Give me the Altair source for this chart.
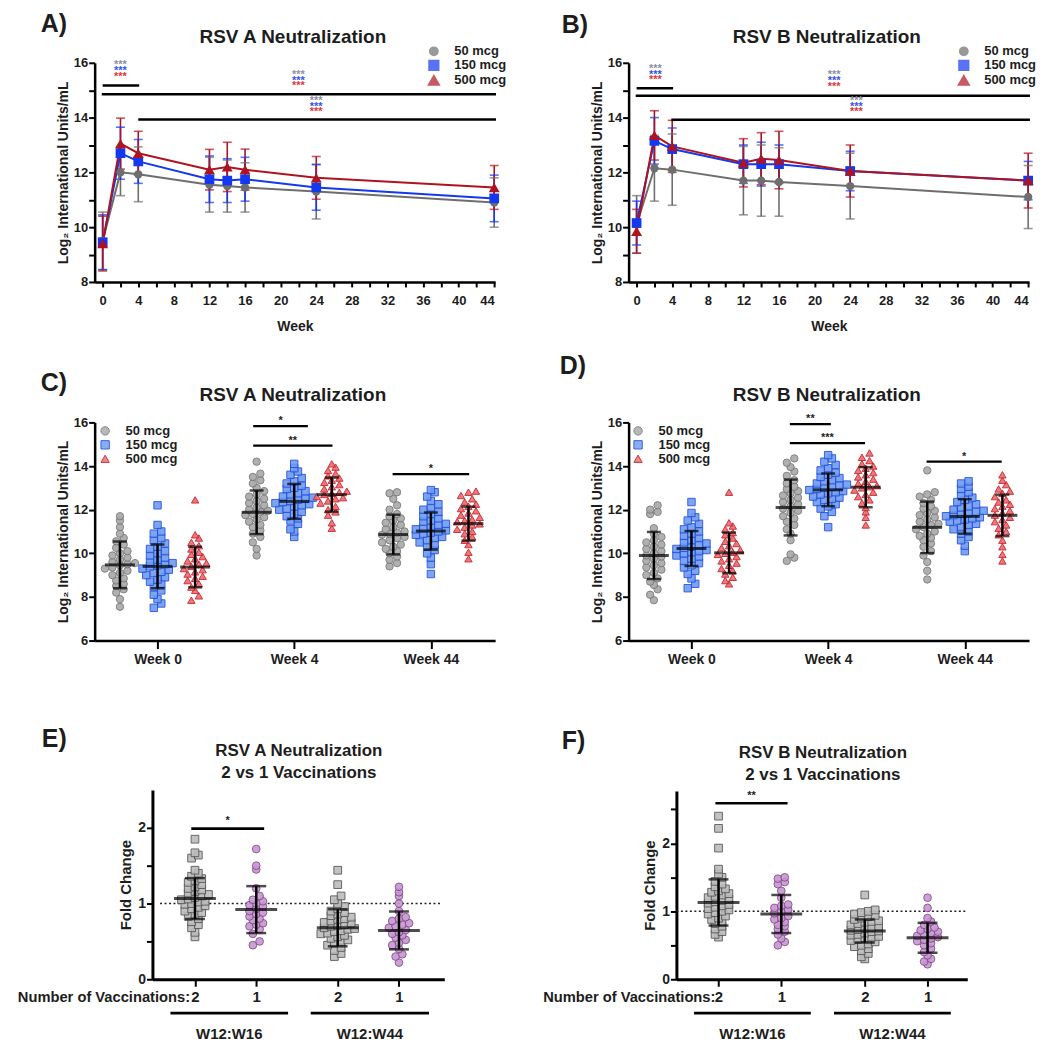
import altair as alt
import pandas as pd

FONT = "Liberation Sans"
INK = "#1d1d1d"
DOSES = ["50 mcg", "150 mcg", "500 mcg"]

# ---------------- Panels A / B : group means over time ----------------
WEEKS = [0, 2, 4, 12, 14, 16, 24, 44]

A_MEAN = {
    "50 mcg":  [9.5, 12.0, 11.93, 11.55, 11.5, 11.45, 11.3, 10.9],
    "150 mcg": [9.45, 12.7, 12.4, 11.75, 11.7, 11.75, 11.45, 11.05],
    "500 mcg": [9.4, 13.05, 12.7, 12.1, 12.2, 12.1, 11.8, 11.45],
}
A_SD = {
    "50 mcg":  [1.05, 0.85, 1.0, 1.0, 0.95, 0.9, 1.0, 0.9],
    "150 mcg": [1.0, 0.95, 0.8, 0.85, 0.8, 0.8, 0.83, 0.85],
    "500 mcg": [1.0, 0.93, 0.8, 0.74, 0.9, 0.75, 0.78, 0.8],
}
B_MEAN = {
    "50 mcg":  [10.1, 12.15, 12.1, 11.7, 11.7, 11.65, 11.5, 11.1],
    "150 mcg": [10.15, 13.15, 12.85, 12.3, 12.3, 12.3, 12.05, 11.7],
    "500 mcg": [9.85, 13.35, 12.95, 12.35, 12.5, 12.45, 12.05, 11.7],
}
B_SD = {
    "50 mcg":  [1.05, 1.2, 1.3, 1.25, 1.3, 1.25, 1.2, 1.15],
    "150 mcg": [0.8, 0.85, 0.77, 0.7, 0.8, 0.7, 0.72, 0.7],
    "500 mcg": [0.8, 0.9, 0.95, 0.88, 0.95, 1.05, 0.95, 1.0],
}
A_BAR_X1 = [0.0, -0.1, 4.0]
A_BAR_X2 = [4.1, 44.2, 44.2]
A_BAR_Y = [15.17, 14.85, 13.93]
A_STAR_X = [2.0, 22.0, 24.0]
A_STAR_Y = [[15.92, 15.7, 15.47], [15.55, 15.35, 15.15], [14.59, 14.38, 14.19]]
B_BAR_X1 = [0.0, -0.1, 3.9]
B_BAR_X2 = [4.1, 44.2, 44.2]
B_BAR_Y = [15.07, 14.80, 13.92]
B_STAR_X = [2.1, 22.2, 24.7]
B_STAR_Y = [[15.76, 15.56, 15.37], [15.54, 15.32, 15.1], [14.61, 14.4, 14.21]]
STAR_COLORS = ["#8b8fa8", "#3552e8", "#e0353a"]

LINE_COLORS = ["#6e6e6e", "#1437f0", "#b01320"]
LINE_SHAPES = ["circle", "square", "triangle-up"]
LINE_SIZES = [70, 120, 90]

# ---------------- Panels C / D : individual titers ----------------
WEEK_LABELS = ["Week 0", "Week 4", "Week 44"]
DOSE_GAP = 0.275

C_W0_50 = [7.55, 7.9, 8.2, 8.35, 8.5, 8.6, 8.75, 8.85, 9.0, 9.1, 9.2, 9.3, 9.35, 9.45, 9.5,
           9.55, 9.6, 9.7, 9.8, 9.9, 10.0, 10.1, 10.25, 10.4, 10.55, 10.7, 10.9, 11.2, 11.5, 11.7]
C_W0_150 = [7.5, 7.7, 7.9, 8.1, 8.3, 8.45, 8.6, 8.7, 8.8, 8.9, 9.0, 9.1, 9.15, 9.25, 9.3, 9.4, 9.45,
            9.5, 9.55, 9.6, 9.7, 9.8, 9.9, 10.0, 10.1, 10.2, 10.3, 10.45, 10.6, 10.7, 10.9, 11.0, 11.3, 12.2]
C_W0_500 = [7.85, 8.05, 8.3, 8.45, 8.6, 8.75, 8.85, 8.95, 9.05, 9.15, 9.25, 9.3, 9.4, 9.5, 9.55,
            9.65, 9.75, 9.85, 9.95, 10.05, 10.2, 10.35, 10.5, 10.7, 10.85, 12.45]
C_W4_50 = [9.9, 10.2, 10.5, 10.75, 10.9, 11.05, 11.2, 11.3, 11.45, 11.55, 11.65, 11.75, 11.8, 11.9, 11.95,
           12.0, 12.1, 12.2, 12.3, 12.4, 12.5, 12.6, 12.7, 12.85, 13.0, 13.2, 13.35, 13.5, 13.65, 14.2]
C_W4_150 = [10.75, 11.0, 11.1, 11.35, 11.5, 11.6, 11.7, 11.8, 11.9, 12.0, 12.05, 12.15, 12.2, 12.25, 12.3,
            12.35, 12.4, 12.45, 12.5, 12.55, 12.6, 12.7, 12.75, 12.85, 12.95, 13.0, 13.1, 13.2, 13.3, 13.45,
            13.6, 13.75, 13.9, 14.1]
C_W4_500 = [11.15, 11.4, 11.75, 11.9, 12.0, 12.15, 12.3, 12.4, 12.5, 12.55, 12.6, 12.7, 12.75, 12.8, 12.85,
            12.95, 13.05, 13.15, 13.25, 13.35, 13.45, 13.55, 13.65, 13.8, 13.95, 14.1]
C_W44_50 = [9.4, 9.55, 9.7, 9.85, 10.0, 10.1, 10.2, 10.3, 10.4, 10.5, 10.6, 10.7, 10.75, 10.85, 10.9,
            10.95, 11.0, 11.1, 11.2, 11.3, 11.4, 11.5, 11.6, 11.7, 11.8, 12.0, 12.2, 12.5, 12.75, 12.8]
C_W44_150 = [9.05, 9.5, 9.8, 10.0, 10.15, 10.3, 10.4, 10.5, 10.6, 10.7, 10.75, 10.85, 10.9, 10.95, 11.0,
             11.05, 11.1, 11.15, 11.2, 11.3, 11.35, 11.45, 11.5, 11.6, 11.7, 11.8, 11.9, 12.0, 12.1, 12.25,
             12.4, 12.6, 12.8, 12.9]
C_W44_500 = [9.75, 10.05, 10.4, 10.6, 10.75, 10.9, 11.0, 11.1, 11.2, 11.3, 11.35, 11.45, 11.5, 11.55, 11.65,
             11.75, 11.85, 11.95, 12.05, 12.15, 12.25, 12.35, 12.5, 12.65, 12.8, 12.85]
C_MEAN = [[9.47, 9.4, 9.37], [11.88, 12.38, 12.69], [10.86, 11.02, 11.36]]
C_SD = [[1.07, 1.0, 0.93], [1.0, 0.8, 0.78], [0.91, 0.85, 0.78]]
C_SIG_X1 = [0.70, 0.70, 1.72]
C_SIG_X2 = [1.10, 1.28, 2.28]
C_SIG_Y = [15.83, 14.94, 13.63]
C_SIG_T = ["*", "**", "*"]

D_W0_50 = [7.85, 8.1, 8.35, 8.55, 8.7, 8.85, 9.0, 9.1, 9.25, 9.35, 9.45, 9.55, 9.65, 9.75, 9.85,
           9.9, 10.0, 10.1, 10.2, 10.3, 10.4, 10.5, 10.6, 10.75, 10.9, 11.15, 11.8, 11.9, 12.0, 12.2]
D_W0_150 = [8.4, 8.6, 8.85, 9.05, 9.2, 9.35, 9.45, 9.55, 9.65, 9.75, 9.85, 9.9, 10.0, 10.05, 10.1,
            10.15, 10.2, 10.25, 10.3, 10.4, 10.45, 10.5, 10.6, 10.7, 10.8, 10.9, 11.0, 11.1, 11.2, 11.35,
            11.5, 11.65, 11.85, 12.35]
D_W0_500 = [8.6, 8.75, 8.9, 9.05, 9.2, 9.3, 9.45, 9.55, 9.65, 9.75, 9.85, 9.95, 10.0, 10.05, 10.15,
            10.25, 10.35, 10.45, 10.55, 10.7, 10.85, 10.95, 11.1, 11.25, 11.4, 12.8]
D_W4_50 = [9.65, 9.8, 9.95, 10.6, 10.9, 11.1, 11.3, 11.45, 11.6, 11.7, 11.85, 11.95, 12.05, 12.15, 12.25,
           12.35, 12.45, 12.55, 12.65, 12.75, 12.85, 12.95, 13.05, 13.2, 13.35, 13.55, 13.75, 13.95, 14.15, 14.35]
D_W4_150 = [11.2, 11.7, 11.9, 12.05, 12.15, 12.25, 12.35, 12.45, 12.5, 12.55, 12.6, 12.7, 12.75, 12.8, 12.85,
            12.9, 12.95, 13.0, 13.05, 13.1, 13.15, 13.2, 13.3, 13.35, 13.45, 13.5, 13.6, 13.7, 13.8, 13.9,
            14.05, 14.2, 14.35, 14.5]
D_W4_500 = [11.3, 11.65, 11.9, 12.1, 12.3, 12.45, 12.6, 12.7, 12.8, 12.9, 13.0, 13.05, 13.1, 13.2, 13.3,
            13.4, 13.5, 13.6, 13.7, 13.8, 13.9, 14.0, 14.1, 14.25, 14.4, 14.6]
D_W44_50 = [8.8, 9.2, 9.6, 9.9, 10.1, 10.3, 10.45, 10.6, 10.7, 10.8, 10.9, 11.0, 11.1, 11.2, 11.3,
            11.35, 11.45, 11.55, 11.65, 11.75, 11.85, 11.95, 12.05, 12.15, 12.3, 12.45, 12.6, 12.7, 12.8, 13.8]
D_W44_150 = [10.1, 10.35, 10.6, 10.75, 10.9, 11.0, 11.1, 11.2, 11.3, 11.35, 11.45, 11.5, 11.55, 11.6, 11.65,
             11.7, 11.75, 11.8, 11.85, 11.9, 11.95, 12.0, 12.1, 12.15, 12.25, 12.35, 12.45, 12.55, 12.65,
             12.8, 12.95, 13.05, 13.2, 13.3]
D_W44_500 = [9.65, 9.95, 10.3, 10.6, 10.85, 11.0, 11.15, 11.3, 11.45, 11.55, 11.65, 11.75, 11.85, 11.95, 12.05,
             12.15, 12.25, 12.35, 12.45, 12.6, 12.75, 12.85, 12.95, 13.15, 13.35, 13.6]
D_MEAN = [[9.9, 10.22, 10.02], [12.1, 12.91, 13.03], [11.19, 11.69, 11.74]]
D_SD = [[1.08, 0.8, 0.93], [1.28, 0.75, 0.92], [1.18, 0.79, 0.95]]
D_SIG_X1 = [0.72, 0.72, 1.72]
D_SIG_X2 = [1.02, 1.27, 2.27]
D_SIG_Y = [15.92, 15.05, 14.2]
D_SIG_T = ["**", "***", "*"]

SW_FILL = ["#a8a8a8", "#6e9bf0", "#ec6a6a"]
SW_STROKE = ["#767676", "#2150dd", "#c81e2c"]
SW_SHAPES = ["circle", "square", "triangle-up"]

# ---------------- Panels E / F : fold change ----------------
VACC = ["2", "1", "2", "1"]
FOLD_POS = [0.0, 1.0, 2.33, 3.33]
PERIODS = ["W12:W16", "W12:W44"]

E_W16_2 = [0.56, 0.62, 0.68, 0.72, 0.76, 0.8, 0.83, 0.86, 0.88, 0.9, 0.93, 0.95, 0.97, 0.99, 1.0,
           1.02, 1.03, 1.05, 1.06, 1.08, 1.1, 1.12, 1.14, 1.16, 1.18, 1.2, 1.22, 1.25, 1.28, 1.3,
           1.33, 1.36, 1.4, 1.44, 1.6, 1.64, 1.67, 1.85]
E_W16_1 = [0.45, 0.5, 0.6, 0.66, 0.7, 0.72, 0.74, 0.78, 0.8, 0.83, 0.86, 0.88, 0.9, 0.93, 0.96,
           0.98, 1.0, 1.03, 1.05, 1.1, 1.2, 1.45, 1.5, 1.72]
E_W44_2 = [0.3, 0.34, 0.38, 0.42, 0.45, 0.48, 0.5, 0.52, 0.54, 0.56, 0.58, 0.6, 0.61, 0.63, 0.64,
           0.66, 0.67, 0.68, 0.7, 0.71, 0.72, 0.74, 0.75, 0.77, 0.79, 0.8, 0.82, 0.84, 0.86, 0.88,
           0.9, 0.93, 0.96, 1.0, 1.05, 1.1, 1.25, 1.44]
E_W44_1 = [0.22, 0.3, 0.33, 0.4, 0.45, 0.48, 0.52, 0.55, 0.58, 0.6, 0.62, 0.65, 0.68, 0.7, 0.72,
           0.74, 0.77, 0.8, 0.82, 0.9, 1.0, 1.1, 1.15, 1.22]
E_MEAN = [1.066, 0.92, 0.68, 0.645]
E_SD = [0.27, 0.31, 0.245, 0.25]
E_SIG = [-0.06, 1.13, 1.99, "*"]

F_W16_2 = [0.62, 0.66, 0.7, 0.74, 0.78, 0.82, 0.85, 0.88, 0.9, 0.93, 0.96, 0.98, 1.0, 1.02, 1.04,
           1.06, 1.08, 1.1, 1.12, 1.14, 1.16, 1.18, 1.2, 1.22, 1.24, 1.26, 1.28, 1.3, 1.33, 1.36,
           1.4, 1.44, 1.5, 1.55, 1.62, 1.93, 2.22, 2.4]
F_W16_1 = [0.5, 0.55, 0.6, 0.66, 0.7, 0.74, 0.78, 0.8, 0.84, 0.88, 0.9, 0.93, 0.97, 1.0, 1.02,
           1.05, 1.08, 1.1, 1.2, 1.3, 1.4, 1.43, 1.48, 1.5]
F_W44_2 = [0.3, 0.33, 0.38, 0.42, 0.45, 0.48, 0.5, 0.52, 0.55, 0.57, 0.59, 0.61, 0.62, 0.63, 0.65,
           0.66, 0.68, 0.7, 0.71, 0.72, 0.73, 0.75, 0.76, 0.78, 0.8, 0.82, 0.84, 0.85, 0.86, 0.88,
           0.9, 0.92, 0.94, 0.96, 0.98, 1.0, 1.02, 1.24]
F_W44_1 = [0.22, 0.26, 0.3, 0.35, 0.4, 0.45, 0.5, 0.53, 0.56, 0.58, 0.6, 0.62, 0.64, 0.66, 0.68,
           0.7, 0.72, 0.74, 0.76, 0.8, 0.85, 0.9, 1.05, 1.2]
F_MEAN = [1.13, 0.96, 0.71, 0.61]
F_SD = [0.34, 0.28, 0.17, 0.22]
F_SIG = [-0.05, 1.1, 2.59, "**"]

FOLD_FILL = ["#bcbcbc", "#c597cf"]
FOLD_STROKE = ["#575757", "#86488f"]
FOLD_SHAPES = ["square", "circle"]


def text_layer(text, px, py, size, align="left", baseline="alphabetic"):
    return alt.Chart(pd.DataFrame({"t": [text]})).mark_text(
        align=align, baseline=baseline, fontSize=size, fontWeight="bold", font=FONT, color=INK
    ).encode(x=alt.value(px), y=alt.value(py), text="t:N")


def line_panel(means, sds, bx1, bx2, by, sx, sy, title, letter, letter_pos, legend_pos):
    rows = []
    for d in DOSES:
        for w, m, s in zip(WEEKS, means[d], sds[d]):
            rows.append({"week": w, "dose": d, "mean": m, "lo": m - s, "hi": m + s})
    df = pd.DataFrame(rows)
    xs = alt.Scale(domain=[-0.9, 44.1], nice=False, zero=False)
    ys = alt.Scale(domain=[8, 16], nice=False, zero=False)
    xax = alt.Axis(values=list(range(0, 45, 2)), labelExpr="datum.value % 4 == 0 ? '' + datum.value : ''",
                   title="Week", labelFontSize=13, titleFontSize=14, tickSize=5, labelPadding=8, titlePadding=12)
    yax = alt.Axis(values=list(range(8, 17)), labelExpr="datum.value % 2 == 0 ? '' + datum.value : ''",
                   title="Log₂ International Units/mL", labelFontSize=13, titleFontSize=14, tickSize=6,
                   labelPadding=1, titlePadding=3)

    def X(f):
        return alt.X(f"{f}:Q", scale=xs, axis=xax)

    def Y(f):
        return alt.Y(f"{f}:Q", scale=ys, axis=yax)

    leg = alt.Legend(orient="none", legendX=legend_pos[0], legendY=legend_pos[1], title=None,
                     labelFontSize=13, labelOffset=14, symbolSize=90, rowPadding=-4.5, padding=0)
    color = alt.Color("dose:N", sort=DOSES, scale=alt.Scale(domain=DOSES, range=LINE_COLORS), legend=leg)
    shape = alt.Shape("dose:N", sort=DOSES, scale=alt.Scale(domain=DOSES, range=LINE_SHAPES), legend=leg)
    size = alt.Size("dose:O", scale=alt.Scale(domain=DOSES, range=LINE_SIZES), legend=None)
    base = alt.Chart(df)
    whisk = base.mark_rule(strokeWidth=1.6).encode(x=X("week"), y=Y("lo"), y2=alt.Y2("hi"), color=color)
    cap_lo = base.mark_tick(orient="horizontal", size=9, thickness=1.6).encode(x=X("week"), y=Y("lo"), color=color)
    cap_hi = base.mark_tick(orient="horizontal", size=9, thickness=1.6).encode(x=X("week"), y=Y("hi"), color=color)
    line = base.mark_line(strokeWidth=2).encode(x=X("week"), y=Y("mean"), color=color, order="week:Q")
    pts = base.mark_point(filled=True, opacity=1).encode(x=X("week"), y=Y("mean"), color=color,
                                                         shape=shape, size=size)
    bars = alt.Chart(pd.DataFrame({"x1": bx1, "x2": bx2, "y": by})).mark_rule(
        strokeWidth=2.6, color="black").encode(x=X("x1"), x2=alt.X2("x2"), y=Y("y"))
    stars = []
    for j, col in enumerate(STAR_COLORS):
        sdf = pd.DataFrame({"x": sx, "y": [r[j] for r in sy]})
        stars.append(alt.Chart(sdf).mark_text(text="***", fontSize=11, fontWeight="bold", color=col,
                                              baseline="middle", font=FONT).encode(x=X("x"), y=Y("y")))
    layers = [whisk, cap_lo, cap_hi, line, pts, bars] + stars + [
        text_layer(letter, letter_pos[0], letter_pos[1], 25),
        text_layer(title, 199, -20, 19, align="center"),
    ]
    return alt.layer(*layers).properties(width=402, height=220)


def swarm_panel(groups, means, sds, sx1, sx2, sy, st, title, letter, letter_pos, legend_pos):
    rows = []
    for wi, grp in enumerate(groups):
        for di, lst in enumerate(grp):
            for v in lst:
                rows.append({"wi": wi, "di": di, "dose": DOSES[di], "v": v})
    df = pd.DataFrame(rows)
    srows = []
    for wi in range(3):
        for di in range(3):
            m, s = means[wi][di], sds[wi][di]
            srows.append({"x": wi + (di - 1) * DOSE_GAP, "mean": m, "lo": m - s, "hi": m + s})
    sdf = pd.DataFrame(srows)
    xs = alt.Scale(domain=[-0.46, 2.47], nice=False, zero=False)
    ys = alt.Scale(domain=[6, 16], nice=False, zero=False)
    lbl = " : ".join(f"datum.value < {i + 0.5} ? '{w}'" for i, w in enumerate(WEEK_LABELS[:-1]))
    lbl += f" : '{WEEK_LABELS[-1]}'"
    xax = alt.Axis(values=[0, 1, 2], labelExpr=lbl, title=None, labelFontSize=14, tickSize=8, labelPadding=4)
    yax = alt.Axis(values=list(range(6, 17, 2)), title="Log₂ International Units/mL", labelFontSize=13,
                   titleFontSize=14, tickSize=6, labelPadding=1, titlePadding=3)

    def X(f):
        return alt.X(f"{f}:Q", scale=xs, axis=xax)

    def Y(f):
        return alt.Y(f"{f}:Q", scale=ys, axis=yax)

    leg = alt.Legend(orient="none", legendX=legend_pos[0], legendY=legend_pos[1], title=None,
                     labelFontSize=13, labelOffset=14, symbolSize=70, rowPadding=-1.5, padding=0,
                     symbolStrokeWidth=1)
    pts = alt.Chart(df).transform_calculate(
        base=f"datum.wi + (datum.di - 1) * {DOSE_GAP}", ybin="floor(datum.v / 0.3)"
    ).transform_window(
        k="row_number()", groupby=["wi", "di", "ybin"], sort=[alt.SortField("v")]
    ).transform_joinaggregate(
        n="count()", groupby=["wi", "di", "ybin"]
    ).transform_calculate(
        xp="datum.base + (datum.k - (datum.n + 1) / 2) * 0.055"
    ).mark_point(filled=True, size=55, strokeWidth=1, opacity=0.9).encode(
        x=X("xp"), y=Y("v"),
        fill=alt.Fill("dose:N", sort=DOSES, scale=alt.Scale(domain=DOSES, range=SW_FILL), legend=leg),
        stroke=alt.Stroke("dose:N", sort=DOSES, scale=alt.Scale(domain=DOSES, range=SW_STROKE), legend=leg),
        shape=alt.Shape("dose:N", sort=DOSES, scale=alt.Scale(domain=DOSES, range=SW_SHAPES), legend=leg),
    )
    sbase = alt.Chart(sdf)
    mean_bar = sbase.mark_tick(orient="horizontal", size=30, thickness=3, color="black").encode(
        x=X("x"), y=Y("mean"))
    whisk = sbase.mark_rule(strokeWidth=2.5, color="black").encode(x=X("x"), y=Y("lo"), y2=alt.Y2("hi"))
    cap_lo = sbase.mark_tick(orient="horizontal", size=14, thickness=2.5, color="black").encode(
        x=X("x"), y=Y("lo"))
    cap_hi = sbase.mark_tick(orient="horizontal", size=14, thickness=2.5, color="black").encode(
        x=X("x"), y=Y("hi"))
    sig = pd.DataFrame({"x1": sx1, "x2": sx2, "y": sy, "t": st})
    sig["xm"] = (sig["x1"] + sig["x2"]) / 2
    sig["ys"] = sig["y"] + 0.22
    sig_rule = alt.Chart(sig).mark_rule(strokeWidth=2.2, color="black").encode(
        x=X("x1"), x2=alt.X2("x2"), y=Y("y"))
    sig_txt = alt.Chart(sig).mark_text(fontSize=11, fontWeight="bold", color=INK, baseline="middle",
                                       font=FONT).encode(x=X("xm"), y=Y("ys"), text="t:N")
    layers = [pts, whisk, cap_lo, cap_hi, mean_bar, sig_rule, sig_txt,
              text_layer(letter, letter_pos[0], letter_pos[1], 25),
              text_layer(title, 199, -21, 19, align="center")]
    return alt.layer(*layers).properties(width=402, height=219)


def fold_panel(groups, means, sds, sig, titles, letter, letter_pos, xdom, xrng, ydom, yrng, yvals,
               yoff, dot_x, under_x1, under_x2, nv_x, binw, title_x, title_y, width):
    rows = []
    for gi, lst in enumerate(groups):
        for v in lst:
            rows.append({"gi": gi, "pos": FOLD_POS[gi], "vac": VACC[gi], "v": v})
    df = pd.DataFrame(rows)
    sdf = pd.DataFrame({"x": FOLD_POS, "mean": means,
                        "lo": [m - s for m, s in zip(means, sds)],
                        "hi": [m + s for m, s in zip(means, sds)]})
    xs = alt.Scale(domain=xdom, range=xrng, nice=False, zero=False)
    ys = alt.Scale(domain=ydom, range=yrng, nice=False, zero=False)
    lbl = (f"datum.value < 0.5 ? '{VACC[0]}' : datum.value < 1.5 ? '{VACC[1]}' : "
           f"datum.value < 2.8 ? '{VACC[2]}' : '{VACC[3]}'")
    xax = alt.Axis(values=FOLD_POS, labelExpr=lbl, title=None, labelFontSize=15, tickSize=7,
                   labelPadding=3, domainWidth=3)
    yax = alt.Axis(values=yvals, labelExpr="datum.value % 1 == 0 ? '' + datum.value : ''",
                   title="Fold Change", labelFontSize=14, titleFontSize=15, tickSize=6, labelPadding=1,
                   titlePadding=4, offset=yoff, domainWidth=3)

    def X(f):
        return alt.X(f"{f}:Q", scale=xs, axis=xax)

    def Y(f):
        return alt.Y(f"{f}:Q", scale=ys, axis=yax)

    pts = alt.Chart(df).transform_calculate(
        ybin=f"floor(datum.v / {binw})"
    ).transform_window(
        k="row_number()", groupby=["gi", "ybin"], sort=[alt.SortField("v")]
    ).transform_joinaggregate(
        n="count()", groupby=["gi", "ybin"]
    ).transform_calculate(
        xp="datum.pos + (datum.k - (datum.n + 1) / 2) * 0.11"
    ).mark_point(filled=True, size=60, strokeWidth=1, opacity=0.9).encode(
        x=X("xp"), y=Y("v"),
        fill=alt.Fill("vac:N", scale=alt.Scale(domain=["2", "1"], range=FOLD_FILL), legend=None),
        stroke=alt.Stroke("vac:N", scale=alt.Scale(domain=["2", "1"], range=FOLD_STROKE), legend=None),
        shape=alt.Shape("vac:N", scale=alt.Scale(domain=["2", "1"], range=FOLD_SHAPES), legend=None),
    )
    dotted = alt.Chart(pd.DataFrame({"x1": [dot_x[0]], "x2": [dot_x[1]], "y": [1.0]})).mark_rule(
        strokeWidth=1.6, strokeDash=[2, 2.5], color="#222").encode(x=X("x1"), x2=alt.X2("x2"), y=Y("y"))
    sbase = alt.Chart(sdf)
    mean_bar = sbase.mark_tick(orient="horizontal", size=42, thickness=3, color="black").encode(
        x=X("x"), y=Y("mean"))
    whisk = sbase.mark_rule(strokeWidth=2.5, color="black").encode(x=X("x"), y=Y("lo"), y2=alt.Y2("hi"))
    cap_lo = sbase.mark_tick(orient="horizontal", size=20, thickness=2.5, color="black").encode(
        x=X("x"), y=Y("lo"))
    cap_hi = sbase.mark_tick(orient="horizontal", size=20, thickness=2.5, color="black").encode(
        x=X("x"), y=Y("hi"))
    sg = pd.DataFrame({"x1": [sig[0]], "x2": [sig[1]], "y": [sig[2]], "t": [sig[3]],
                       "xm": [(sig[0] + sig[1]) / 2], "ys": [sig[2] + 0.1]})
    sig_rule = alt.Chart(sg).mark_rule(strokeWidth=2.6, color="black").encode(
        x=X("x1"), x2=alt.X2("x2"), y=Y("y"))
    sig_txt = alt.Chart(sg).mark_text(fontSize=11, fontWeight="bold", color=INK, baseline="middle",
                                      font=FONT).encode(x=X("xm"), y=Y("ys"), text="t:N")
    udf = pd.DataFrame({"x1": under_x1, "x2": under_x2, "t": PERIODS,
                        "xm": [(a + b) / 2 for a, b in zip(under_x1, under_x2)]})
    under = alt.Chart(udf).mark_rule(strokeWidth=2.6, color="black").encode(
        x=X("x1"), x2=alt.X2("x2"), y=alt.value(233))
    under_txt = alt.Chart(udf).mark_text(fontSize=15, fontWeight="bold", color=INK, baseline="middle",
                                         font=FONT).encode(x=X("xm"), y=alt.value(254), text="t:N")
    nv = alt.Chart(pd.DataFrame({"x": [nv_x], "t": ["Number of Vaccinations:"]})).mark_text(
        fontSize=14.75, fontWeight="bold", color=INK, align="right", baseline="middle", font=FONT
    ).encode(x=X("x"), y=alt.value(218), text="t:N")
    layers = [dotted, pts, whisk, cap_lo, cap_hi, mean_bar, sig_rule, sig_txt, under, under_txt, nv,
              text_layer(letter, letter_pos[0], letter_pos[1], 25),
              text_layer(titles[0], title_x, title_y[0], 17, align="center"),
              text_layer(titles[1], title_x, title_y[1], 17, align="center")]
    return alt.layer(*layers).properties(width=width, height=199)


pA = line_panel(A_MEAN, A_SD, A_BAR_X1, A_BAR_X2, A_BAR_Y, A_STAR_X, A_STAR_Y,
                "RSV A Neutralization", "A)", (-54, -31), (334, -18))
pB = line_panel(B_MEAN, B_SD, B_BAR_X1, B_BAR_X2, B_BAR_Y, B_STAR_X, B_STAR_Y,
                "RSV B Neutralization", "B)", (-67, -30), (330, -18))
pC = swarm_panel([[C_W0_50, C_W0_150, C_W0_500], [C_W4_50, C_W4_150, C_W4_500],
                  [C_W44_50, C_W44_150, C_W44_500]], C_MEAN, C_SD, C_SIG_X1, C_SIG_X2, C_SIG_Y, C_SIG_T,
                 "RSV A Neutralization", "C)", (-54, -32), (4, 2))
pD = swarm_panel([[D_W0_50, D_W0_150, D_W0_500], [D_W4_50, D_W4_150, D_W4_500],
                  [D_W44_50, D_W44_150, D_W44_500]], D_MEAN, D_SD, D_SIG_X1, D_SIG_X2, D_SIG_Y, D_SIG_T,
                 "RSV B Neutralization", "D)", (-69, -49), (3, 2))
pE = fold_panel([E_W16_2, E_W16_1, E_W44_2, E_W44_1], E_MEAN, E_SD, E_SIG,
                ["RSV A Neutralization", "2 vs 1 Vaccinations"], "E)", (-53, -34),
                [-0.694, 4.07], [58, 351], [0, 2.5], [199, 9], [0, 0.5, 1, 1.5, 2], -58,
                [-0.57, 4.03], [-0.40, 1.89], [1.52, 3.82], -0.08, 0.075, 205, [-25, -3], 351)
pF = fold_panel([F_W16_2, F_W16_1, F_W44_2, F_W44_1], F_MEAN, F_SD, F_SIG,
                ["RSV B Neutralization", "2 vs 1 Vaccinations"], "F)", (-67, -32),
                [-0.671, 3.963], [48, 340], [0, 2.77], [199, 10], [0, 0.5, 1, 1.5, 2, 2.5], -48,
                [-0.671, 3.963], [-0.39, 1.84], [1.47, 3.70], -0.05, 0.08, 195, [-23, -1.5], 340)

chart = alt.concat(
    pA, pB, pC, pD, pE, pF, columns=2, spacing={"row": 141, "column": 134}, bounds="flush"
).resolve_scale(
    color="independent", fill="independent", stroke="independent", shape="independent", size="independent"
).properties(
    padding={"left": 9, "top": 2, "right": 5, "bottom": 5}
).configure(font=FONT).configure_view(stroke=None).configure_axis(
    grid=False, domainColor="black", domainWidth=2.5, tickColor="black", tickWidth=2,
    labelColor=INK, titleColor=INK, labelFont=FONT, titleFont=FONT,
    labelFontWeight="bold", titleFontWeight="bold"
).configure_legend(labelFont=FONT, labelFontWeight="bold", labelColor=INK)

chart.save("out.html", embed_options={"renderer": "svg", "actions": False})
